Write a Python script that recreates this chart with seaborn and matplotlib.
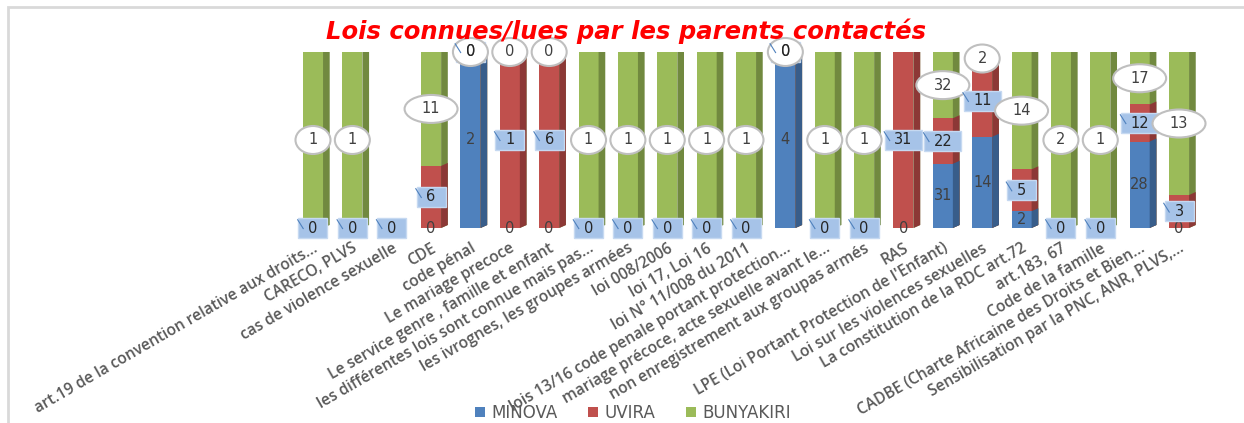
import numpy as np
import pandas as pd
import matplotlib
matplotlib.use("Agg")
import matplotlib.pyplot as plt
from matplotlib.patches import Polygon, Ellipse, Rectangle
import seaborn as sns

categories = [
    "art.19 de la convention relative aux droits...",
    "CARECO, PLVS",
    "cas de violence sexuelle",
    "CDE",
    "code pénal",
    "Le mariage precoce",
    "Le service genre , famille et enfant",
    "les différentes lois sont connue mais pas...",
    "les ivrognes, les groupes armées",
    "loi 008/2006",
    "loi 17, Loi 16",
    "loi N° 11/008 du 2011",
    "lois 13/16 code penale portant protection...",
    "mariage précoce, acte sexuelle avant le...",
    "non enregistrement aux groupas armés",
    "RAS",
    "LPE (Loi Portant Protection de l'Enfant)",
    "Loi sur les violences sexuelles",
    "La constitution de la RDC art.72",
    "art.183, 67",
    "Code de la famille",
    "CADBE (Charte Africaine des Droits et Bien...",
    "Sensibilisation par la PNC, ANR, PLVS,...",
]
minova = [0, 0, 0, 0, 2, 0, 0, 0, 0, 0, 0, 0, 4, 0, 0, 0, 31, 14, 2, 0, 0, 28, 0]
uvira = [0, 0, 0, 6, 0, 1, 6, 0, 0, 0, 0, 0, 0, 0, 0, 31, 22, 11, 5, 0, 0, 12, 3]
bunyakiri = [1, 1, 0, 11, 0, 0, 0, 1, 1, 1, 1, 1, 0, 1, 1, 0, 32, 2, 14, 2, 1, 17, 13]
series = ["MINOVA", "UVIRA", "BUNYAKIRI"]

colors = {"MINOVA": "#4F81BD", "UVIRA": "#C0504D", "BUNYAKIRI": "#9BBB59"}
sides = {"MINOVA": "#385D8A", "UVIRA": "#8C3836", "BUNYAKIRI": "#71893F"}
text_gray = "#595959"

df = pd.DataFrame({"cat": categories, "MINOVA": minova, "UVIRA": uvira, "BUNYAKIRI": bunyakiri})
df["total"] = df[series].sum(axis=1)
tot = df["total"].replace(0, np.nan)
# cumulative shares (100% stacked)
df["c_m"] = (df["MINOVA"] / tot).fillna(0)
df["c_u"] = ((df["MINOVA"] + df["UVIRA"]) / tot).fillna(0)
df["c_b"] = ((df["MINOVA"] + df["UVIRA"] + df["BUNYAKIRI"]) / tot).fillna(0)

W, H = 1244, 423
fig = plt.figure(figsize=(W / 100, H / 100), dpi=100)
ax = fig.add_axes([293.3 / W, (H - 228) / H, 905.4 / W, 176 / H])

bar_w = 0.51
dx, dy = 0.17, 0.017

# overlay from tallest cumulative share to smallest
for s, col in [("BUNYAKIRI", "c_b"), ("UVIRA", "c_u"), ("MINOVA", "c_m")]:
    n0 = len(ax.patches)
    sns.barplot(data=df, x="cat", y=col, color=colors[s], saturation=1,
                width=bar_w, ax=ax, linewidth=0)
    for p in list(ax.patches[n0:]):
        x0, y0 = p.get_x(), p.get_y()
        w, h = p.get_width(), p.get_height()
        if h <= 0:
            continue
        ax.add_patch(Polygon([(x0 + w, y0), (x0 + w + dx, y0 + dy),
                              (x0 + w + dx, y0 + h + dy), (x0 + w, y0 + h)],
                             closed=True, facecolor=sides[s], edgecolor="none"))
        if y0 + h >= 0.999:
            ax.add_patch(Polygon([(x0, y0 + h), (x0 + dx, y0 + h + dy),
                                  (x0 + w + dx, y0 + h + dy), (x0 + w, y0 + h)],
                                 closed=True, facecolor=sides[s], edgecolor="none"))

ax.set_xlim(-0.5, len(categories) - 0.5)
ax.set_ylim(0, 1)
ax.set_xlabel("")
ax.set_ylabel("")
ax.set_yticks([])
for sp in ax.spines.values():
    sp.set_visible(False)
ax.tick_params(axis="x", length=0, pad=9)
ax.set_xticks(range(len(categories)))
ax.set_xticklabels(categories, rotation=30, ha="right", rotation_mode="anchor",
                   fontsize=11.2, color=text_gray, family="Open Sans", fontweight="semibold")

px_x = 905.4 / len(categories)  # pixels per category
px_y = 176.0


def circle_label(x, y, val):
    txt = str(val)
    w = (35 if len(txt) == 1 else 53) / px_x
    ax.add_patch(Ellipse((x, y), w, 28 / px_y, facecolor="white",
                         edgecolor="#BFBFBF", linewidth=1.5, zorder=5, clip_on=False))
    ax.text(x, y, txt, ha="center", va="center", fontsize=10.5, color="#404040",
            zorder=6, clip_on=False)


def box_label(x, y, val):
    txt = str(val)
    w = (29 if len(txt) == 1 else 37) / px_x
    h = 20 / px_y
    ax.add_patch(Rectangle((x - w / 2, y - h / 2), w, h, facecolor="#A6C3E8",
                           edgecolor="#C6D9F1", linewidth=1, zorder=5, clip_on=False))
    ax.plot([x - w / 2 - 0.02, x - w / 2 + 0.12], [y + h / 2 - 0.01, y + h / 2 - 0.06],
            color="#4F81BD", linewidth=0.8, zorder=6, clip_on=False)
    ax.text(x, y, txt, ha="center", va="center", fontsize=10.5, color="#262626",
            zorder=7, clip_on=False)


for i, r in df.iterrows():
    if r["total"] == 0:
        box_label(i, 0, r["UVIRA"])
        continue
    # MINOVA: plain text
    m_y = r["c_m"] / 2
    ax.text(i, m_y, str(r["MINOVA"]), ha="center", va="center", fontsize=10.5,
            color="#404040", zorder=4)
    # UVIRA: boxed
    box_label(i, (r["c_m"] + r["c_u"]) / 2, r["UVIRA"])
    # BUNYAKIRI: ellipse
    if r["BUNYAKIRI"] == 0 and r["cat"] == "RAS":
        continue
    circle_label(i, (r["c_u"] + r["c_b"]) / 2, r["BUNYAKIRI"])

fig.text(626 / W, 1 - 31 / H, "Lois connues/lues par les parents contactés",
         ha="center", va="center", color="#FF0000", fontsize=17.5,
         fontweight="bold", fontstyle="italic", family="DejaVu Sans")

handles = [Rectangle((0, 0), 1, 1, facecolor=colors[s]) for s in series]
fig.legend(handles, series, loc="center", bbox_to_anchor=(633 / W, 1 - 413 / H),
           ncol=3, frameon=False, fontsize=12, labelcolor=text_gray,
           handlelength=0.6, handleheight=0.6, handletextpad=0.4, columnspacing=1.8)

fig.patches.append(Rectangle((8 / W, -0.02), 1.1, 1 - 7 / H + 0.02, transform=fig.transFigure,
                             facecolor="none", edgecolor="#D9D9D9", linewidth=2))

fig.savefig("out.png", dpi=100)
